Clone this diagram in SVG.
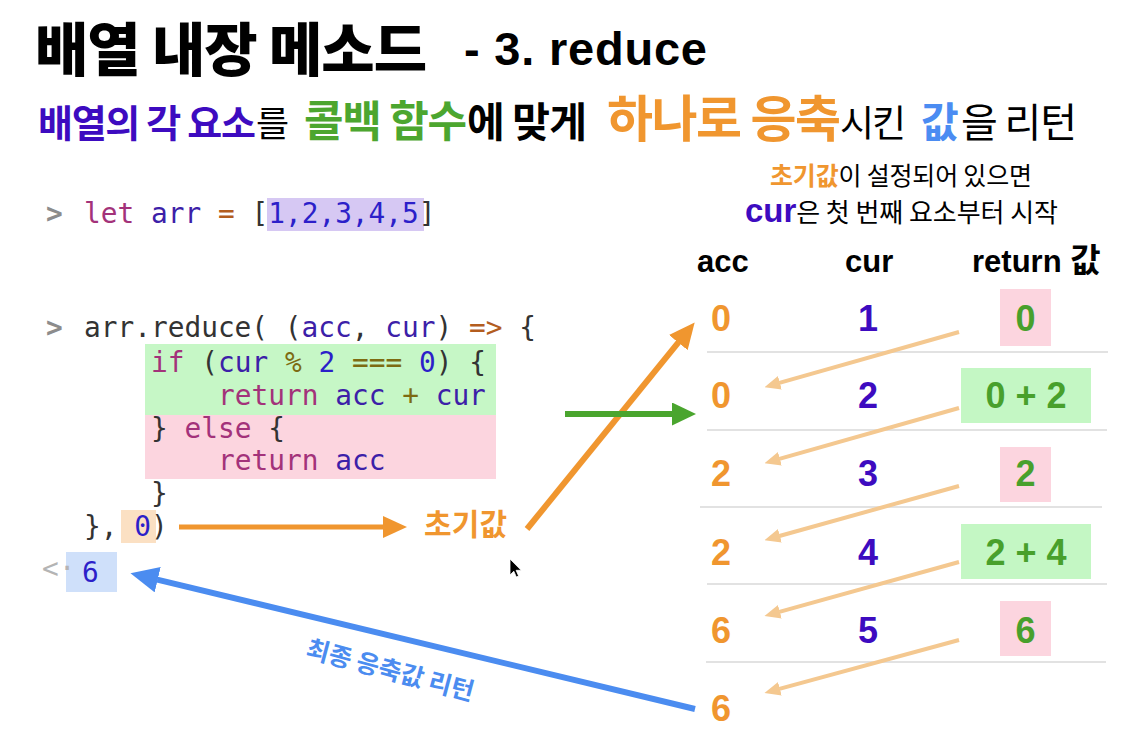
<svg xmlns="http://www.w3.org/2000/svg" width="1129" height="737" viewBox="0 0 1129 737">
<style>
.kr{font-family:"Noto Sans CJK KR","Noto Sans",sans-serif}
.la{font-family:"Liberation Sans","Noto Sans CJK KR",Arial,sans-serif}
.b{font-weight:bold}
.mono{font-family:"DejaVu Sans Mono","Liberation Mono",monospace;font-size:27.8px;white-space:pre}
.kw{fill:#a3327a}
.vr{fill:#3c20a8}
.nm{fill:#2c1fc9}
.op{fill:#b35d1f}
.ol{fill:#7d6b12}
.pu{fill:#333333}
.num{font-family:"Liberation Sans",Arial,sans-serif;font-weight:bold;font-size:36px;text-anchor:middle}
.acc{fill:#f0962f}
.cur{fill:#3d0bc0}
.ret{fill:#48a02c}
.pink{fill:#fcd5df}
.grn{fill:#c4f7c4}
.sep{stroke:#e2e2e2;stroke-width:2}
.thin{stroke:#f4c890;stroke-width:4;fill:none}
</style>
<defs>
<marker id="mLight" viewBox="0 0 16 14" refX="0.5" refY="7" markerWidth="16" markerHeight="14" markerUnits="userSpaceOnUse" orient="auto"><path d="M0,0 L16,7 L0,14 z" fill="#f4c890"/></marker>
<marker id="mOrange" viewBox="0 0 26 24" refX="0.5" refY="12" markerWidth="26" markerHeight="24" markerUnits="userSpaceOnUse" orient="auto"><path d="M0,0 L26,12 L0,24 z" fill="#f0962f"/></marker>
<marker id="mOrange2" viewBox="0 0 24 22" refX="0.5" refY="11" markerWidth="24" markerHeight="22" markerUnits="userSpaceOnUse" orient="auto"><path d="M0,0 L24,11 L0,22 z" fill="#f0962f"/></marker>
<marker id="mGreen" viewBox="0 0 24 23" refX="0.5" refY="11.5" markerWidth="24" markerHeight="23" markerUnits="userSpaceOnUse" orient="auto"><path d="M0,0 L24,11.5 L0,23 z" fill="#4aa52e"/></marker>
<marker id="mBlue" viewBox="0 0 28 26" refX="0.5" refY="13" markerWidth="28" markerHeight="26" markerUnits="userSpaceOnUse" orient="auto"><path d="M0,0 L28,13 L0,26 z" fill="#4b8cf0"/></marker>
</defs>
<rect width="1129" height="737" fill="#ffffff"/>

<g id="title">
<text class="kr" x="35" y="71" font-size="58" font-weight="900" fill="#000" textLength="392">배열 내장 메소드</text>
<text class="la b" x="464" y="65" font-size="47" fill="#000" textLength="243">- 3. reduce</text>
</g>

<g id="subtitle">
<text class="kr b" x="38" y="137" font-size="38" fill="#3d0bc0" textLength="218">배열의 각 요소</text>
<text class="kr" x="256" y="137" font-size="36" fill="#000">를</text>
<text class="kr b" x="304" y="137" font-size="43" fill="#4ca62f" textLength="163">콜백 함수</text>
<text class="kr b" x="467" y="137" font-size="41" fill="#000" textLength="120">에 맞게</text>
<text class="kr b" x="607" y="137" font-size="50" fill="#f0962f" textLength="234">하나로 응축</text>
<text class="kr" x="840" y="137" font-size="37" fill="#000" textLength="66">시킨</text>
<text class="kr b" x="921" y="137" font-size="41" fill="#4b8cf2">값</text>
<text class="kr" x="961" y="137" font-size="40" fill="#000" textLength="116">을 리턴</text>
</g>

<g id="note">
<text class="kr" x="770" y="185" font-size="25" fill="#000" textLength="262"><tspan class="b" fill="#f0962f">초기값</tspan>이 설정되어 있으면</text>
<text class="kr" x="745" y="222" font-size="26" fill="#000" textLength="313"><tspan class="la b" font-size="33" fill="#3d0bc0">cur</tspan>은 첫 번째 요소부터 시작</text>
</g>

<g id="code">
<rect x="267" y="198" width="157" height="33" fill="#d6c8f3"/>
<rect x="145" y="344" width="351" height="71" fill="#c6f7c6"/>
<rect x="145" y="415" width="351" height="64" fill="#fcd5df"/>
<rect x="121" y="510" width="35" height="33" fill="#fbe0c3"/>
<rect x="66" y="552" width="51" height="40" fill="#cfe0fa"/>
<text class="mono b" x="46" y="223" font-size="21" fill="#8c8c8c">&gt;</text>
<text class="mono" x="84" y="223"><tspan class="kw">let</tspan> <tspan class="vr">arr</tspan> <tspan class="op">=</tspan> <tspan class="pu">[</tspan><tspan class="nm">1,2,3,4,5</tspan><tspan class="pu">]</tspan></text>
<text class="mono b" x="46" y="337" font-size="21" fill="#8c8c8c">&gt;</text>
<text class="mono" x="84" y="337"><tspan class="pu">arr.reduce( (</tspan><tspan class="vr">acc</tspan><tspan class="pu">, </tspan><tspan class="vr">cur</tspan><tspan class="pu">) </tspan><tspan class="op">=&gt;</tspan><tspan class="pu"> {</tspan></text>
<text class="mono" x="151" y="372"><tspan class="kw">if</tspan><tspan class="pu"> (</tspan><tspan class="vr">cur</tspan> <tspan class="ol">%</tspan> <tspan class="nm">2</tspan> <tspan class="ol">===</tspan> <tspan class="nm">0</tspan><tspan class="pu">) {</tspan></text>
<text class="mono" x="218" y="405"><tspan class="kw">return</tspan> <tspan class="vr">acc</tspan> <tspan class="ol">+</tspan> <tspan class="vr">cur</tspan></text>
<text class="mono" x="151" y="438"><tspan class="pu">} </tspan><tspan class="kw">else</tspan><tspan class="pu"> {</tspan></text>
<text class="mono" x="218" y="470"><tspan class="kw">return</tspan> <tspan class="vr">acc</tspan></text>
<text class="mono pu" x="151" y="503">}</text>
<text class="mono" x="84" y="536"><tspan class="pu">}, </tspan><tspan class="nm">0</tspan><tspan class="pu">)</tspan></text>
<text class="mono" x="42" y="578" font-size="17" fill="#b4b4b4">&lt;·</text>
<text class="mono nm" x="82" y="582">6</text>
</g>

<g id="header">
<text class="la b" x="697" y="272" font-size="31" fill="#000">acc</text>
<text class="la b" x="845" y="272" font-size="31" fill="#000">cur</text>
<text class="la b" x="972" y="272" font-size="31" fill="#000">return <tspan class="kr" font-size="33">값</tspan></text>
</g>

<g id="table-lines">
<line class="sep" x1="707" y1="352" x2="1108" y2="352"/>
<line class="sep" x1="707" y1="430" x2="1107" y2="430"/>
<line class="sep" x1="700" y1="507" x2="1102" y2="507"/>
<line class="sep" x1="707" y1="584" x2="1107" y2="584"/>
<line class="sep" x1="706" y1="662" x2="1106" y2="662"/>
</g>

<g id="row1">
<text class="num acc" x="721" y="331">0</text>
<text class="num cur" x="868" y="331">1</text>
<rect class="pink" x="1000" y="289" width="51" height="57"/>
<text class="num ret" x="1025.5" y="331">0</text>
</g>
<g id="row2">
<text class="num acc" x="721" y="408">0</text>
<text class="num cur" x="868" y="408">2</text>
<rect class="grn" x="961" y="368" width="130" height="55"/>
<text class="num ret" x="1026" y="408">0 + 2</text>
</g>
<g id="row3">
<text class="num acc" x="721" y="486">2</text>
<text class="num cur" x="868" y="486">3</text>
<rect class="pink" x="1000" y="447" width="51" height="55"/>
<text class="num ret" x="1025.5" y="486">2</text>
</g>
<g id="row4">
<text class="num acc" x="721" y="565">2</text>
<text class="num cur" x="868" y="565">4</text>
<rect class="grn" x="961" y="524" width="130" height="55"/>
<text class="num ret" x="1026" y="565">2 + 4</text>
</g>
<g id="row5">
<text class="num acc" x="721" y="643">6</text>
<text class="num cur" x="868" y="643">5</text>
<rect class="pink" x="1000" y="601" width="51" height="55"/>
<text class="num ret" x="1025.5" y="643">6</text>
</g>
<g id="row6">
<text class="num acc" x="721" y="721">6</text>
</g>

<g id="labels">
<text class="kr b" x="424" y="535" font-size="30" fill="#f0962f" textLength="83">초기값</text>
<text class="kr b" transform="translate(390,671) rotate(15)" x="0" y="8" font-size="25" fill="#4b8cf0" text-anchor="middle">최종 응축값 리턴</text>
</g>

<g id="connectors">
<line class="thin" x1="959" y1="332" x2="779.4" y2="382.9" marker-end="url(#mLight)"/>
<line class="thin" x1="959" y1="408" x2="779.4" y2="458.9" marker-end="url(#mLight)"/>
<line class="thin" x1="959" y1="486" x2="779.4" y2="536" marker-end="url(#mLight)"/>
<line class="thin" x1="959" y1="562" x2="779.4" y2="611.9" marker-end="url(#mLight)"/>
<line class="thin" x1="959" y1="640" x2="779.4" y2="688.9" marker-end="url(#mLight)"/>
<line x1="179" y1="527" x2="383.5" y2="527" stroke="#f0962f" stroke-width="5" marker-end="url(#mOrange2)"/>
<line x1="527" y1="529" x2="678.6" y2="342.2" stroke="#f0962f" stroke-width="6" marker-end="url(#mOrange)"/>
<line x1="565" y1="414" x2="672.5" y2="414" stroke="#4aa52e" stroke-width="6" marker-end="url(#mGreen)"/>
<line x1="695" y1="709" x2="157.2" y2="579.6" stroke="#4b8cf0" stroke-width="6" marker-end="url(#mBlue)"/>
</g>

<g id="cursor">
<path d="M510,559 L510,575 L513.8,571.2 L516.3,577 L518.6,576 L516.1,570.3 L521.2,570.3 Z" fill="#000" stroke="#fff" stroke-width="0.8"/>
</g>
</svg>
